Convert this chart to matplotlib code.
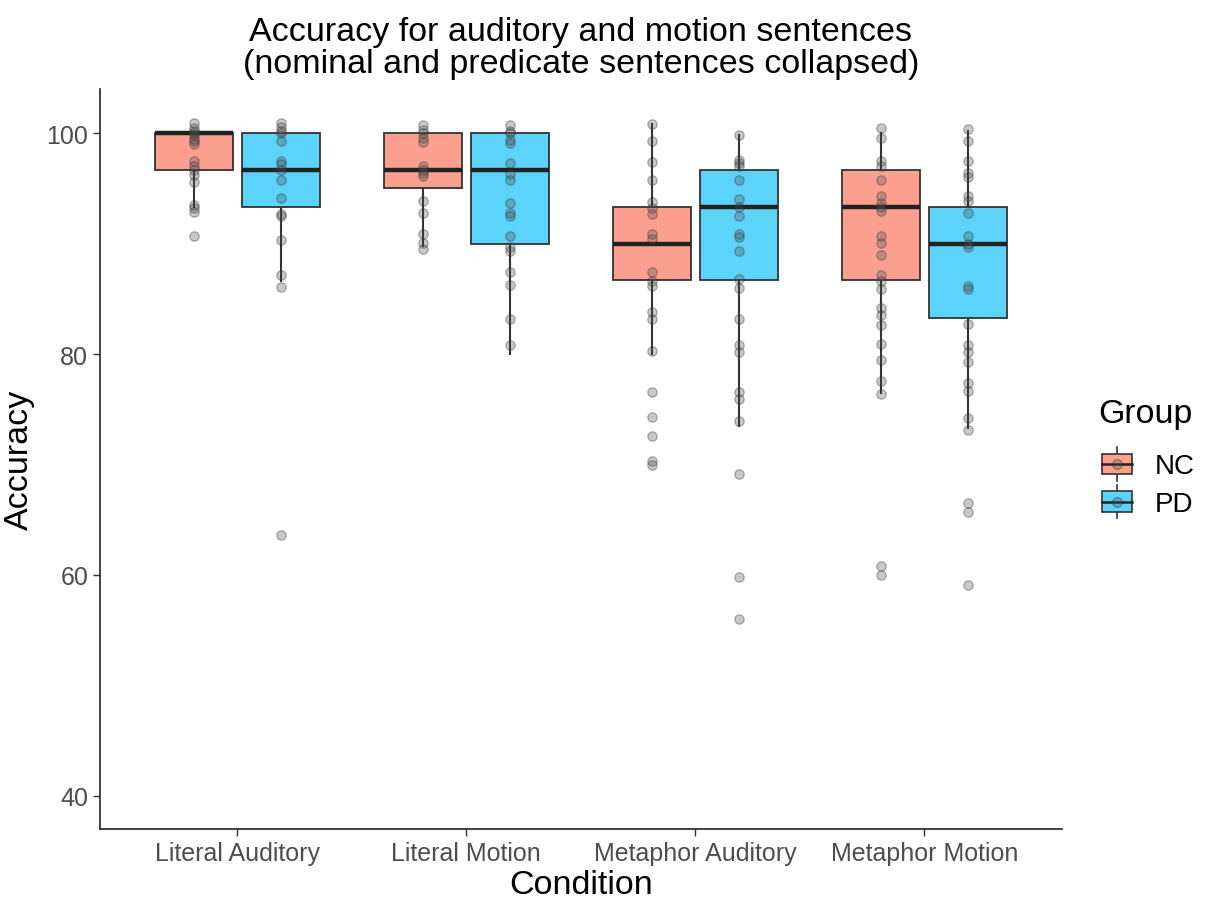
import matplotlib
matplotlib.use("Agg")
import matplotlib.pyplot as plt
from matplotlib.legend_handler import HandlerBase
from matplotlib.patches import Rectangle
from matplotlib.lines import Line2D

plt.rcParams["font.family"] = ["Liberation Sans", "DejaVu Sans"]

conditions = ["Literal Auditory", "Literal Motion", "Metaphor Auditory", "Metaphor Motion"]
groups = ["NC", "PD"]
colors = {"NC": "#FBA08F", "PD": "#5CD3FA"}

# Box statistics: [lower whisker, Q1, median, Q3, upper whisker]
nc_stats = [
    [93.3, 96.7, 100.0, 100.0, 100.0],
    [89.8, 95.0, 96.7, 100.0, 100.0],
    [80.0, 86.7, 90.0, 93.3, 100.8],
    [76.5, 86.7, 93.3, 96.7, 100.0],
]
pd_stats = [
    [86.6, 93.3, 96.7, 100.0, 100.0],
    [80.0, 90.0, 96.7, 100.0, 100.0],
    [73.5, 86.7, 93.3, 96.7, 99.8],
    [73.3, 83.3, 90.0, 93.3, 100.2],
]

# Individual points
nc_la = [100.9, 100.5, 100.2, 100.0, 99.8, 99.5, 99.3, 99.0, 97.5, 97.0, 96.7, 96.2, 95.6,
         93.5, 93.2, 92.9, 90.7]
pd_la = [100.9, 100.6, 100.2, 100.0, 99.3, 97.5, 97.2, 96.7, 95.8, 94.1, 92.7, 92.5, 90.3,
         87.2, 86.1, 63.6]
nc_lm = [100.7, 100.3, 100.0, 99.6, 99.2, 97.0, 96.7, 96.4, 96.1, 93.9, 92.8, 90.9, 90.1, 89.5]
pd_lm = [100.7, 100.2, 100.0, 99.4, 99.1, 97.3, 96.3, 95.8, 93.7, 92.8, 92.5, 90.7, 89.7,
         89.3, 87.4, 86.3, 83.2, 80.8]
nc_ma = [100.8, 99.3, 97.4, 95.8, 93.8, 93.2, 92.7, 90.9, 90.4, 87.4, 86.6, 86.2, 83.8, 83.2,
         80.3, 76.6, 74.3, 72.6, 70.3, 70.0]
pd_ma = [99.8, 97.6, 97.3, 97.0, 95.8, 94.0, 93.3, 92.5, 90.9, 90.6, 89.3, 86.8, 86.0, 83.2,
         80.8, 80.2, 76.6, 75.9, 73.9, 69.1, 59.8, 56.0]
nc_mm = [100.5, 99.6, 97.5, 97.0, 95.8, 94.3, 93.7, 93.3, 93.0, 90.7, 90.1, 89.0, 87.2, 86.6,
         85.9, 84.2, 83.5, 82.6, 80.9, 79.5, 77.6, 76.4, 60.8, 60.0]
pd_mm = [100.4, 99.3, 97.5, 96.4, 96.0, 94.3, 93.9, 92.8, 90.7, 90.0, 89.7, 86.2, 85.9, 82.7,
         80.8, 80.2, 79.3, 77.4, 76.7, 74.2, 73.1, 66.5, 65.7, 59.1]

nc_points = [nc_la, nc_lm, nc_ma, nc_mm]
pd_points = [pd_la, pd_lm, pd_ma, pd_mm]

title = "Accuracy for auditory and motion sentences\n(nominal and predicate sentences collapsed)"
y_ticks = [40, 60, 80, 100]

fig = plt.figure(figsize=(12.09, 9.04), dpi=100)
ax = fig.add_axes([0.0827, 0.0819, 0.7955, 0.8185])

offset = 0.19
bw = 0.34
edge = "#333333"

for gi, (g, stats, pts) in enumerate([("NC", nc_stats, nc_points), ("PD", pd_stats, pd_points)]):
    for ci in range(len(conditions)):
        x = ci + 1 + (-offset if gi == 0 else offset)
        lo, q1, med, q3, hi = stats[ci]
        ax.plot([x, x], [lo, q1], color=edge, lw=1.5, zorder=1)
        ax.plot([x, x], [q3, hi], color=edge, lw=1.5, zorder=1)
        ax.add_patch(Rectangle((x - bw / 2, q1), bw, q3 - q1, facecolor=colors[g],
                               edgecolor=edge, lw=1.3, zorder=2))
        ax.plot([x - bw / 2, x + bw / 2], [med, med], color="#222222", lw=3.2,
                solid_capstyle="butt", zorder=3)
        ax.scatter([x] * len(pts[ci]), pts[ci], s=45, facecolor=(0.3, 0.3, 0.3, 0.3),
                   edgecolor=(0.2, 0.2, 0.2, 0.35), lw=1.0, zorder=4)

ax.set_xlim(0.4, 4.6)
ax.set_ylim(37.0, 104.0)
ax.set_xticks(range(1, 5))
ax.set_xticklabels(conditions)
ax.set_yticks(y_ticks)
ax.tick_params(axis="both", labelsize=18, colors="#4D4D4D", length=5, width=1.0)
ax.tick_params(axis="both", color="#333333")
for s in ["top", "right"]:
    ax.spines[s].set_visible(False)
for s in ["left", "bottom"]:
    ax.spines[s].set_linewidth(1.2)
    ax.spines[s].set_color("#222222")

ax.set_xlabel("Condition", fontsize=24.5, labelpad=3)
ax.set_ylabel("Accuracy", fontsize=24.5, labelpad=8)
ax.set_title(title, fontsize=24.5, pad=12, linespacing=1.05)


class BoxHandler(HandlerBase):
    def __init__(self, color):
        super().__init__()
        self.color = color

    def create_artists(self, legend, orig_handle, xdescent, ydescent, width, height, fontsize, trans):
        x0 = -xdescent
        y0 = -ydescent
        cx = x0 + width / 2
        bh = height * 0.54
        by = y0 + (height - bh) / 2
        artists = [
            Line2D([cx, cx], [y0 + height * 0.05, y0 + height * 0.95], color=edge, lw=1.2,
                   transform=trans),
            Rectangle((x0 + width * 0.03, by), width * 0.94, bh, facecolor=self.color,
                      edgecolor=edge, lw=1.2, transform=trans),
            Line2D([x0 + width * 0.03, x0 + width * 0.97], [by + bh / 2, by + bh / 2],
                   color="#222222", lw=1.8, transform=trans),
            Line2D([cx], [by + bh / 2], marker="o", markersize=7, linestyle="none",
                   markerfacecolor=(0.3, 0.3, 0.3, 0.3),
                   markeredgecolor=(0.2, 0.2, 0.2, 0.4), transform=trans),
        ]
        return artists


fig.text(1098 / 1209, 1 - 415 / 904, "Group", fontsize=24.5, ha="left", va="center")
h_nc = Rectangle((0, 0), 1, 1)
h_pd = Rectangle((0, 0), 1, 1)
leg = fig.legend([h_nc, h_pd], groups, loc="center left",
                 bbox_to_anchor=(1101 / 1209, 1 - 483.75 / 904), frameon=False, fontsize=20,
                 handlelength=1.15, handleheight=1.7, labelspacing=0.0,
                 handletextpad=0.8, borderaxespad=0.0, borderpad=0.0,
                 handler_map={h_nc: BoxHandler(colors["NC"]), h_pd: BoxHandler(colors["PD"])})

fig.savefig("out.png", dpi=100)
